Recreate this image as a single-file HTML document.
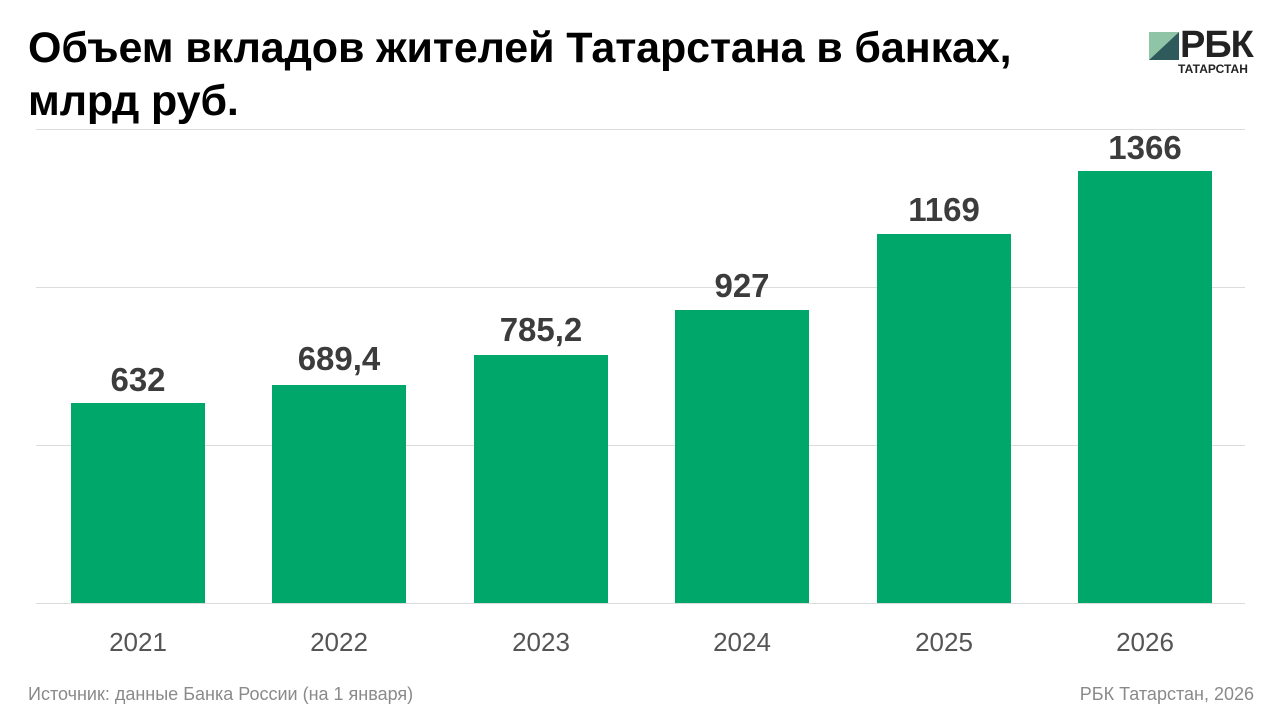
<!DOCTYPE html>
<html><head><meta charset="utf-8"><style>
body{margin:0;width:1280px;height:720px;background:#fff;font-family:"Liberation Sans",sans-serif;position:relative;overflow:hidden}
.t{position:absolute;left:28px;top:22px;font-size:43px;font-weight:bold;line-height:53px;color:#000;letter-spacing:-0.1px}
.g{position:absolute;left:36px;width:1209px;height:1px;background:#dcdcdc}
.b{position:absolute;background:#00a76a;width:134px}
.v{position:absolute;width:200px;text-align:center;font-size:33px;font-weight:bold;color:#3c3c3c}
.y{position:absolute;width:200px;text-align:center;font-size:26px;color:#555;top:627px}
.f{position:absolute;top:684px;font-size:18px;color:#8a8a8a}
</style></head><body>
<div class="t">Объем вкладов жителей Татарстана в банках,<br>млрд руб.</div>
<svg style="position:absolute;left:1149px;top:32px" width="30" height="28"><polygon points="0,0 30,0 0,28" fill="#8fc5a6"/><polygon points="30,0 30,28 0,28" fill="#2e5a5c"/></svg>
<div style="position:absolute;left:1180px;top:24px;font-size:38px;font-weight:bold;color:#222;letter-spacing:-1px">РБК</div>
<div style="position:absolute;left:1178px;top:62px;font-size:12px;font-weight:bold;color:#222">ТАТАРСТАН</div>
<div class="g" style="top:129px"></div><div class="g" style="top:287px"></div><div class="g" style="top:445px"></div><div class="g" style="top:603px"></div>
<div class="b" style="left:71px;top:403px;height:200px"></div>
<div class="b" style="left:272px;top:385px;height:218px"></div>
<div class="b" style="left:474px;top:355px;height:248px"></div>
<div class="b" style="left:675px;top:310px;height:293px"></div>
<div class="b" style="left:877px;top:234px;height:369px"></div>
<div class="b" style="left:1078px;top:171px;height:432px"></div>
<div class="v" style="left:38px;top:361px">632</div>
<div class="v" style="left:239px;top:340px">689,4</div>
<div class="v" style="left:441px;top:311px">785,2</div>
<div class="v" style="left:642px;top:267px">927</div>
<div class="v" style="left:844px;top:191px">1169</div>
<div class="v" style="left:1045px;top:129px">1366</div>
<div class="y" style="left:38px">2021</div><div class="y" style="left:239px">2022</div><div class="y" style="left:441px">2023</div>
<div class="y" style="left:642px">2024</div><div class="y" style="left:844px">2025</div><div class="y" style="left:1045px">2026</div>
<div class="f" style="left:28px">Источник: данные Банка России (на 1 января)</div>
<div class="f" style="right:26px">РБК Татарстан, 2026</div>
</body></html>
